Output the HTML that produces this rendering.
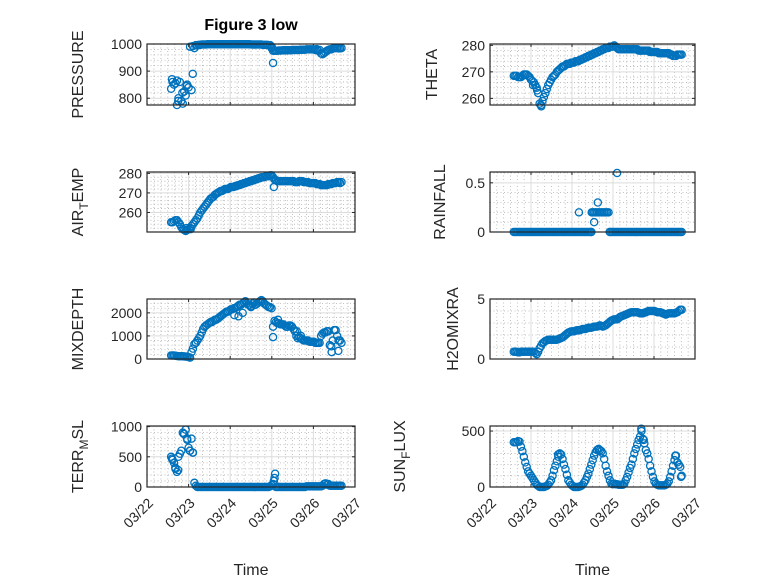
<!DOCTYPE html>
<html><head><meta charset="utf-8"><style>
html,body{margin:0;padding:0;background:#fff;}
svg{display:block;font-family:"Liberation Sans","DejaVu Sans",sans-serif;}
</style></head><body>
<svg id="fig" width="778" height="583" viewBox="0 0 778 583" xmlns="http://www.w3.org/2000/svg">
<rect width="778" height="583" fill="#fff"/>
<text x="251" y="30" text-anchor="middle" font-size="16" font-weight="bold" fill="#000">Figure 3 low</text>
</svg>
<script>
const xTickLabels = ["03/22","03/23","03/24","03/25","03/26","03/27"];
const times = [0.58,0.65,0.72,0.79,0.86,0.93,1.00,1.07,1.14,1.21,1.28,1.35,1.42,1.49,1.56,1.63,1.70,1.77,1.84,1.91,1.98,2.05,2.12,2.19,2.26,2.33,2.40,2.47,2.54,2.61,2.68,2.75,2.82,2.89,2.96,3.03,3.10,3.17,3.24,3.31,3.38,3.45,3.52,3.59,3.66,3.73,3.80,3.87,3.94,4.01,4.08,4.15,4.22,4.29,4.36,4.43,4.50,4.57,4.64];
const times2 = [0.615,0.685,0.755,0.825,0.895,0.965,1.035,1.105,1.175,1.245,1.315,1.385,1.455,1.525,1.595,1.665,1.735,1.805,1.875,1.945,2.015,2.085,2.155,2.225,2.295,2.365,2.435,2.505,2.575,2.645,2.715,2.785,2.855,2.925,2.995,3.065,3.135,3.205,3.275,3.345,3.415,3.485,3.555,3.625,3.695,3.765,3.835,3.905,3.975,4.045,4.115,4.185,4.255,4.325,4.395,4.465,4.535,4.605,4.675];
const pressureVals = [835,850,865,860,780,810,840,830,985,995,997,998,998,999,999,999,999,999,999,999,999,999,999,999,999,999,999,999,998,998,998,998,997,997,996,975,975,976,976,977,977,977,978,978,978,979,979,980,980,980,981,978,962,970,978,980,985,985,984];
const pressureVals2 = [860,855,800,790,825,850,990,992,996,997,998,998,999,999,999,999,999,999,999,999,999,999,999,999,999,999,999,998,998,998,998,997,997,996,985,975,975,976,977,977,977,978,978,978,979,979,980,980,980,978,975,965,966,975,980,983,985,984,985];
const pressureExtra = [[0.6,870],[0.75,790],[0.72,775],[0.85,820],[1.1,890],[0.95,845],[3.03,930],[3.0,990]];
const thetaVals = [268.5,268.5,268,268.5,269,268.5,267,266,264,258,259,262,265,267,268.5,270,271,272,272.5,273,273.5,273.5,274,274.5,275,275.5,276,276.5,277,277.5,278,278.5,279,279,279.5,280,279,278.5,278.5,278.5,278.5,278.5,278.5,278.5,278,278,278,278,277.5,277.5,277.5,277,277,277,277,276.5,276,276.5,276.5];
const thetaVals2 = [268.5,268,268,269,269,268,266.5,265,262,257.5,260.5,263.5,266,268,269,270.5,271.5,272,273,273,273.5,274,274,274.5,275,275.5,276,276.5,277,277.5,278,278.5,279,279.5,279.5,279.5,278.5,278.5,278.5,278.5,278.5,278.5,278.5,278,278,278,278,277.5,277.5,277.5,277,277,277,277,276.5,276,276,276.5,276.5];
const thetaExtra = [[1.25,257],[1.15,263],[1.05,265]];
const airVals = [255,255.5,256,254,251.5,250.5,251.5,253,255,257,260,262,264,266,267.5,269,270,271,271.5,272,272.5,273,273.5,274,274.5,275,275.5,276,276.5,277,277.5,278,278,278.5,279,278,276.5,276,276,276,276,276,276,275.5,276,276,275.5,275.5,275,275,274.5,274.5,274,274,274.5,274.5,275,275.5,275];
const airVals2 = [255,256,255,252.5,251,251,252,254,256,258.5,261,263,265,267,268,269.5,270.5,271,272,272,273,273,273.5,274,274.5,275,275.5,276,276.5,277,277.5,278,278.5,278.5,279,277,276,276,276,276,276,276,275.5,275.5,276,275.5,275.5,275,275,275,274.5,274,274,274,274.5,275,275,275.5,275.5];
const airExtra = [[3.05,273],[0.95,252],[1.05,251.5]];
const rainVals = [0,0,0,0,0,0,0,0,0,0,0,0,0,0,0,0,0,0,0,0,0,0,0,0,0,0,0,0,0.2,0.2,0.2,0.2,0.2,0.2,0,0,0,0,0,0,0,0,0,0,0,0,0,0,0,0,0,0,0,0,0,0,0,0,0];
const rainVals2 = [0,0,0,0,0,0,0,0,0,0,0,0,0,0,0,0,0,0,0,0,0,0,0,0,0,0,0,0.2,0.2,0.2,0.2,0.2,0.2,0,0,0,0,0,0,0,0,0,0,0,0,0,0,0,0,0,0,0,0,0,0,0,0,0,0];
const rainExtra = [[2.17,0.2],[2.54,0.1],[2.63,0.3],[3.1,0.6],[2.48,0.2],[2.92,0],[2.47,0]];
const mixVals = [150,150,130,120,120,110,80,300,650,800,1000,1300,1450,1550,1600,1700,1750,1850,1950,2050,2100,2150,2200,2300,2350,2450,2400,2350,2400,2350,2450,2550,2400,2300,2250,1400,1600,1550,1500,1450,1400,1450,1300,1000,950,850,800,800,750,750,700,700,1100,1150,1200,550,1250,1000,800];
const mixVals2 = [150,140,120,120,110,100,60,450,700,900,1150,1400,1500,1600,1650,1700,1800,1900,2000,2050,2150,2200,2250,2350,2400,2500,2350,2300,2450,2400,2500,2500,2350,2250,2200,1650,1550,1500,1500,1400,1450,1400,1200,900,900,800,800,750,750,700,700,1000,1150,1200,600,800,1250,800,700];
const mixExtra = [[3.03,950],[2.1,1900],[2.2,1850],[2.3,2000],[2.5,2250],[4.44,300],[4.6,350],[3.6,1200],[3.7,1000],[3.15,1700]];
const h2oVals = [0.6,0.6,0.55,0.6,0.6,0.6,0.6,0.6,0.4,0.9,1.3,1.5,1.6,1.6,1.6,1.6,1.7,1.8,2.0,2.2,2.3,2.3,2.4,2.4,2.5,2.5,2.6,2.6,2.7,2.7,2.8,2.7,2.8,3.0,3.2,3.3,3.3,3.5,3.6,3.7,3.8,3.9,3.9,3.9,3.8,3.8,3.9,4.0,4.0,4.0,3.9,3.9,3.8,3.7,3.8,3.8,3.8,3.9,4.1];
const h2oVals2 = [0.6,0.55,0.6,0.6,0.6,0.6,0.6,0.5,0.6,1.1,1.4,1.55,1.6,1.6,1.6,1.65,1.75,1.9,2.1,2.25,2.3,2.35,2.4,2.45,2.5,2.55,2.6,2.65,2.7,2.75,2.75,2.75,2.9,3.1,3.25,3.3,3.4,3.55,3.65,3.75,3.85,3.9,3.9,3.85,3.8,3.85,3.95,4.0,4.0,3.95,3.9,3.85,3.75,3.75,3.8,3.8,3.85,4.0,4.1];
const terrVals = [500,400,250,550,900,950,650,800,70,0,0,0,0,0,0,0,0,0,0,0,0,0,0,0,0,0,0,0,0,0,0,0,0,0,10,50,0,0,0,0,0,0,0,0,0,0,0,10,10,10,10,10,20,60,50,20,20,20,20];
const terrVals2 = [450,300,500,600,880,800,600,570,20,0,0,0,0,0,0,0,0,0,0,0,0,0,0,0,0,0,0,0,0,0,0,0,0,0,30,150,0,0,0,0,0,0,0,0,0,0,10,10,10,10,10,10,50,40,20,20,20,20,20];
const terrExtra = [[0.6,470],[0.68,320],[0.75,280],[0.88,880],[0.97,780],[1.03,600],[1.1,570],[3.08,220],[3.05,100]];
const sunVals = [400,400,405,320,220,140,100,60,20,0,0,5,20,60,150,230,300,250,160,60,20,0,0,5,20,60,120,200,280,330,330,300,190,100,30,30,25,20,20,60,130,200,300,380,450,430,330,250,140,50,20,15,15,20,50,140,240,220,180];
const sunVals2 = [400,410,360,270,180,120,80,40,10,0,0,10,40,100,190,270,290,200,110,40,10,0,0,10,40,90,160,240,310,340,320,250,140,60,25,25,20,20,30,90,170,250,340,420,500,390,300,190,90,30,15,15,15,30,90,190,280,200,100];
const sunExtra = [[3.69,520],[3.75,420],[4.52,280],[4.66,90],[1.66,290],[2.65,340],[4.6,200]];

const NS = "http://www.w3.org/2000/svg";
const svg = document.getElementById('fig');
function mk(tag, attrs, parent){const e=document.createElementNS(NS,tag);for(const k in attrs)e.setAttribute(k,attrs[k]);(parent||svg).appendChild(e);return e;}

function panel(cfg){
  const g = mk('g',{});
  
  
  const L=cfg.x0,R=cfg.x1,T=cfg.y0,B=cfg.y1;
  const xs = t => L + (t-0)/5*(R-L);
  const ys = v => B - (v-cfg.ymin)/(cfg.ymax-cfg.ymin)*(B-T);
  mk('rect',{x:L,y:T,width:R-L,height:B-T,fill:'#fff'},g);
  for(let d=0; d<5; d++) for(let k=1;k<6;k++){const x=xs(d+k/6);mk('line',{x1:x,x2:x,y1:T,y2:B,stroke:'#b0b0b0','stroke-width':0.8,'stroke-dasharray':'1 2.5'},g);}
  const step=cfg.minor;
  for(let v=Math.ceil(cfg.ymin/step)*step; v<=cfg.ymax; v+=step){
    if(cfg.ticks.some(t=>Math.abs(t-v)<1e-9)) continue;
    const y=ys(v);mk('line',{x1:L,x2:R,y1:y,y2:y,stroke:'#b0b0b0','stroke-width':0.8,'stroke-dasharray':'1 2.5'},g);}
  for(let d=1; d<5; d++){const x=xs(d);mk('line',{x1:x,x2:x,y1:T,y2:B,stroke:'#dcdcdc','stroke-width':1},g);}
  cfg.ticks.forEach((v,i)=>{const y=ys(v);
    mk('line',{x1:L,x2:R,y1:y,y2:y,stroke:'#dcdcdc','stroke-width':1},g);
    mk('line',{x1:L,x2:L+3,y1:y,y2:y,stroke:'#262626','stroke-width':1},g);
    mk('line',{x1:R,x2:R-3,y1:y,y2:y,stroke:'#262626','stroke-width':1},g);
    const tx=mk('text',{x:L-5,y:y+5,'text-anchor':'end','font-size':14,fill:'#262626'},g);
    tx.textContent=cfg.tickLabels[i];
    
    
  });
  for(let d=0; d<=5; d++){const x=xs(d);
    mk('line',{x1:x,x2:x,y1:B,y2:B-3,stroke:'#262626','stroke-width':1},g);
    mk('line',{x1:x,x2:x,y1:T,y2:T+3,stroke:'#262626','stroke-width':1},g);
    if(cfg.xlabels){
      const ax=x+7, ay=B+17;
      const tx=mk('text',{x:ax,y:ay,'text-anchor':'end','font-size':14,fill:'#262626',transform:`rotate(-45 ${ax} ${ay})`},g);
      tx.textContent=xTickLabels[d];
      
      
    }
  }
  const pts=[];
  cfg.vals.forEach((v,i)=>pts.push([times[i],v]));
  cfg.vals2.forEach((v,i)=>pts.push([times2[i],v]));
  (cfg.extra||[]).forEach(p=>pts.push(p));
  pts.forEach(p=>{
    const c=mk('circle',{cx:xs(p[0]),cy:ys(p[1]),r:3.6,fill:'none',stroke:'#0072BD','stroke-width':1.3},g);
    
    
  });
  mk('rect',{x:L,y:T,width:R-L,height:B-T,fill:'none',stroke:'#262626','stroke-width':1.2},g);
  const yl=mk('text',{x:cfg.lx,y:(T+B)/2,'text-anchor':'middle','font-size':16,fill:'#262626',transform:`rotate(-90 ${cfg.lx} ${(T+B)/2})`},g);
  yl.innerHTML=cfg.label;
  
  
  if(cfg.xlabels){
    const xl=mk('text',{x:(L+R)/2,y:B+88,'text-anchor':'middle','font-size':16,fill:'#262626'},g);
    xl.textContent='Time';
    
    
  }
}
const sub = (a,b,c)=>`${a}<tspan dy="5" font-size="12">${b}</tspan><tspan dy="-5">${c}</tspan>`;
const LX0=147,LX1=355,RX0=490,RX1=695;
panel({name:'pressure',x0:LX0,x1:LX1,y0:44,y1:105,ymin:775,ymax:1000,ticks:[800,900,1000],tickLabels:['800','900','1000'],minor:20,vals:pressureVals,vals2:pressureVals2,extra:pressureExtra,lx:83,label:'PRESSURE'});
panel({name:'theta',x0:RX0,x1:RX1,y0:44,y1:105,ymin:257.5,ymax:280.5,ticks:[260,270,280],tickLabels:['260','270','280'],minor:2,vals:thetaVals,vals2:thetaVals2,extra:thetaExtra,lx:437,label:'THETA'});
panel({name:'air-temp',x0:LX0,x1:LX1,y0:172,y1:232,ymin:250,ymax:280.7,ticks:[260,270,280],tickLabels:['260','270','280'],minor:2,vals:airVals,vals2:airVals2,extra:airExtra,lx:83,label:sub('AIR','T','EMP')});
panel({name:'rainfall',x0:RX0,x1:RX1,y0:172,y1:232,ymin:0,ymax:0.61,ticks:[0,0.5],tickLabels:['0','0.5'],minor:0.1,vals:rainVals,vals2:rainVals2,extra:rainExtra,lx:445,label:'RAINFALL'});
panel({name:'mixdepth',x0:LX0,x1:LX1,y0:299,y1:359,ymin:0,ymax:2600,ticks:[0,1000,2000],tickLabels:['0','1000','2000'],minor:200,vals:mixVals,vals2:mixVals2,extra:mixExtra,lx:83,label:'MIXDEPTH'});
panel({name:'h2omixra',x0:RX0,x1:RX1,y0:299,y1:359,ymin:0,ymax:5,ticks:[0,5],tickLabels:['0','5'],minor:1,vals:h2oVals,vals2:h2oVals2,extra:[],lx:458,label:'H2OMIXRA'});
panel({name:'terr-msl',x0:LX0,x1:LX1,y0:426,y1:487,ymin:0,ymax:1010,ticks:[0,500,1000],tickLabels:['0','500','1000'],minor:100,vals:terrVals,vals2:terrVals2,extra:terrExtra,lx:83,label:sub('TERR','M','SL'),xlabels:true});
panel({name:'sun-flux',x0:RX0,x1:RX1,y0:426,y1:487,ymin:0,ymax:545,ticks:[0,500],tickLabels:['0','500'],minor:100,vals:sunVals,vals2:sunVals2,extra:sunExtra,lx:405,label:sub('SUN','F','LUX'),xlabels:true});
</script>
</body></html>
